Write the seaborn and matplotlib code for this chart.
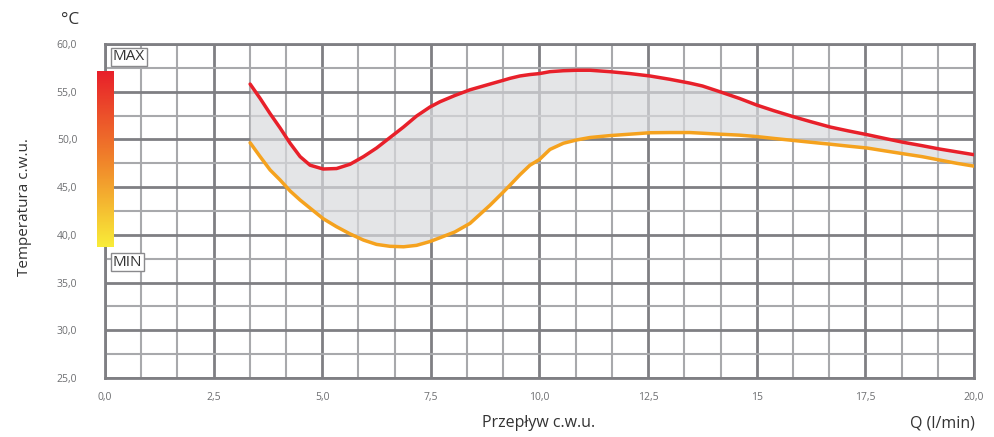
import numpy as np
import pandas as pd
import seaborn as sns
import matplotlib
matplotlib.use("Agg")
from matplotlib import pyplot as plt
from matplotlib.colors import LinearSegmentedColormap

# data
flow = [3.34, 3.57, 3.80, 4.03, 4.26, 4.49, 4.72, 5.02, 5.33, 5.64, 5.95, 6.25, 6.56, 6.87,
        7.17, 7.48, 7.71, 8.05, 8.40, 8.86, 9.17, 9.32, 9.55, 9.78, 10.0, 10.24, 10.55,
        10.86, 11.16, 11.62, 12.08, 12.54, 13.0, 13.46, 13.75, 14.15, 14.6, 15.0, 15.4,
        15.83, 16.25, 16.69, 17.1, 17.54, 17.95, 18.37, 18.8, 19.2, 19.6, 20.0]
t_max = [55.8, 54.3, 52.7, 51.2, 49.6, 48.2, 47.3, 46.9, 46.95, 47.4, 48.2, 49.1, 50.2, 51.3,
         52.45, 53.4, 53.95, 54.6, 55.2, 55.8, 56.2, 56.4, 56.65, 56.8, 56.9, 57.1, 57.2,
         57.25, 57.25, 57.1, 56.9, 56.65, 56.3, 55.9, 55.6, 55.0, 54.3, 53.6, 53.0,
         52.4, 51.85, 51.3, 50.9, 50.5, 50.1, 49.7, 49.35, 49.0, 48.7, 48.4]
t_min = [49.65, 48.2, 46.8, 45.75, 44.6, 43.65, 42.8, 41.7, 40.85, 40.1, 39.45, 39.0, 38.8, 38.75,
         38.9, 39.3, 39.7, 40.3, 41.2, 43.1, 44.5, 45.2, 46.3, 47.3, 47.9, 48.95, 49.6,
         49.95, 50.2, 50.4, 50.55, 50.7, 50.72, 50.72, 50.65, 50.55, 50.45, 50.3, 50.1,
         49.9, 49.7, 49.5, 49.3, 49.1, 48.8, 48.5, 48.2, 47.85, 47.5, 47.2]

xticks = [0, 2.5, 5, 7.5, 10, 12.5, 15, 17.5, 20]
xticklabels = ["0,0", "2,5", "5,0", "7,5", "10,0", "12,5", "15", "17,5", "20,0"]
yticks = [25, 30, 35, 40, 45, 50, 55, 60]
yticklabels = ["25,0", "30,0", "35,0", "40,0", "45,0", "50,0", "55,0", "60,0"]

df = pd.DataFrame({"Q": flow, "max": t_max, "min": t_min})

sns.set_style("white")
plt.rcParams['font.family'] = ['Open Sans', 'DejaVu Sans']

W, H = 995, 437
fig = plt.figure(figsize=(W / 100, H / 100), dpi=100)
ax = fig.add_axes([105 / W, 1 - 378 / H, 869 / W, 334 / H])

dark = '#7f7f83'
light = '#a8a9ac'

ax.set_xlim(0, 20)
ax.set_ylim(25, 60)
ax.set_xticks(xticks)
ax.set_xticklabels(xticklabels)
ax.set_yticks(yticks)
ax.set_yticklabels(yticklabels)
ax.set_xticks(np.arange(0, 20.01, 2.5 / 3), minor=True)
ax.set_yticks(np.arange(25, 60.01, 2.5), minor=True)
ax.set_axisbelow(True)
ax.grid(which='minor', color=light, lw=1.5)
ax.grid(which='major', color=dark, lw=2)
ax.tick_params(which='both', length=0)
ax.tick_params(axis='x', pad=10, labelsize=7.5, labelcolor='#6d6e71')
ax.tick_params(axis='y', pad=20, labelsize=7.5, labelcolor='#6d6e71')
for s in ax.spines.values():
    s.set_color(dark)
    s.set_linewidth(2)

ax.fill_between(df["Q"], df["min"], df["max"], color='#d9dadd', alpha=0.7, lw=0, zorder=2)
sns.lineplot(data=df, x="Q", y="max", ax=ax, color='#e8202a', lw=2.5, zorder=3)
sns.lineplot(data=df, x="Q", y="min", ax=ax, color='#f5a21e', lw=2.5, zorder=3)
ax.set_xlabel("")
ax.set_ylabel("")

# colour bar on the left
cax = fig.add_axes([97 / W, 1 - 247 / H, 17 / W, 176 / H])
cmap = LinearSegmentedColormap.from_list("mm", ['#e8202a', '#f0822a', '#f9ec38'])
cax.imshow(np.linspace(0, 1, 200).reshape(-1, 1), aspect='auto', cmap=cmap)
cax.axis('off')

box = dict(boxstyle='square,pad=0.12', fc='white', ec='#8a8a8d', lw=1)
fig.text(113 / W, 1 - 57 / H, "MAX", fontsize=11, color='#333333', va='center', bbox=box)
fig.text(113 / W, 1 - 262 / H, "MIN", fontsize=11, color='#333333', va='center', bbox=box)

fig.text(70 / W, 1 - 20 / H, "°C", fontsize=12.5, color='#333333', ha='center', va='center')
fig.text(25 / W, 1 - 207 / H, "Temperatura c.w.u.", fontsize=11, color='#333333',
         rotation=90, ha='center', va='center')
fig.text(539 / W, 1 - 423 / H, "Przepływ c.w.u.", fontsize=11.5, color='#333333',
         ha='center', va='center')
fig.text(975 / W, 1 - 423 / H, "Q (l/min)", fontsize=11.5, color='#333333',
         ha='right', va='center')

fig.savefig("out.png", dpi=100)
